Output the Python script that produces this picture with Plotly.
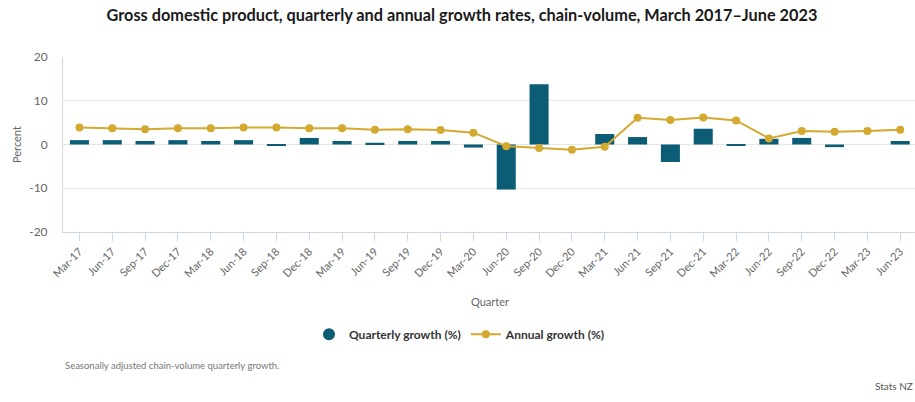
import plotly.graph_objects as go

quarters = ["Mar-17", "Jun-17", "Sep-17", "Dec-17", "Mar-18", "Jun-18", "Sep-18", "Dec-18",
            "Mar-19", "Jun-19", "Sep-19", "Dec-19", "Mar-20", "Jun-20", "Sep-20", "Dec-20",
            "Mar-21", "Jun-21", "Sep-21", "Dec-21", "Mar-22", "Jun-22", "Sep-22", "Dec-22",
            "Mar-23", "Jun-23"]
quarterly_growth = [1.0, 1.0, 0.8, 1.0, 0.8, 1.0, -0.2, 1.5,
                    0.8, 0.4, 0.8, 0.8, -0.7, -10.3, 13.8, 0.0,
                    2.4, 1.7, -4.0, 3.6, -0.2, 1.3, 1.5, -0.6,
                    0.0, 0.8]
annual_growth = [3.9, 3.7, 3.5, 3.7, 3.7, 3.9, 3.9, 3.7,
                 3.7, 3.4, 3.5, 3.3, 2.7, -0.4, -0.8, -1.2,
                 -0.5, 6.1, 5.6, 6.2, 5.5, 1.4, 3.1, 2.9,
                 3.1, 3.4]
y_ticks = [-20, -10, 0, 10, 20]
y_tick_labels = ["-20", "-10", "0", "10", "20"]

BAR = "#0b5c74"
GOLD = "#d4a92f"
AXIS = "#ccd6eb"
GRID = "#e6e6e6"
FONT = "Lato"

W, H = 915, 402

fig = go.Figure()
fig.add_trace(go.Bar(x=quarters, y=quarterly_growth, marker_color=BAR, marker_line_width=0,
                     name="Quarterly growth (%)", showlegend=False))
fig.add_trace(go.Scatter(x=[None], y=[None], mode="markers", name="Quarterly growth (%)",
                         marker=dict(color=BAR, size=12, symbol="circle")))
fig.add_trace(go.Scatter(x=quarters, y=annual_growth, mode="lines+markers", name="Annual growth (%)",
                         line=dict(color=GOLD, width=2), marker=dict(color=GOLD, size=8)))

plot_top, plot_bottom, plot_left, plot_right = 56.7, 232.3, 63, 915
ph = plot_bottom - plot_top
pw = plot_right - plot_left

def px(xpix):
    return (xpix - plot_left) / pw

def py(ypix):
    return (plot_bottom - ypix) / ph

fig.update_layout(
    width=W, height=H,
    margin=dict(l=plot_left, r=W - plot_right, t=plot_top, b=H - plot_bottom),
    paper_bgcolor="white", plot_bgcolor="white",
    font=dict(family=FONT, color="#666666", size=11),
    bargap=0.42,
    title=dict(text="<b>Gross domestic product, quarterly and annual growth rates, chain-volume, March 2017\u2013June 2023</b>",
               x=462 / W, xanchor="center", y=1 - 15 / H, yanchor="middle",
               font=dict(family=FONT, size=16.3, color="#1a1a1a")),
    xaxis=dict(type="category", range=[-0.5, 25.45], tickangle=-45,
               showline=True, linecolor=AXIS, linewidth=1,
               ticks="outside", ticklen=8, tickcolor=AXIS,
               tickfont=dict(size=11, color="#666666"), showgrid=False),
    yaxis=dict(range=[-20, 20], tickvals=y_ticks, ticktext=y_tick_labels,
               showgrid=True, gridcolor=GRID,
               zeroline=True, zerolinecolor=GRID, zerolinewidth=1,
               showline=True, linecolor=AXIS, linewidth=1,
               ticklabelstandoff=12, tickfont=dict(size=12, color="#666666")),
    legend=dict(orientation="h", x=px(460), xanchor="center", y=py(335), yanchor="middle",
                font=dict(family=FONT, size=12, color="#333333", weight="bold"),
                itemwidth=30, tracegroupgap=0),
    annotations=[
        dict(text="Quarter", xref="paper", yref="paper", x=px(490), y=py(302),
             xanchor="center", yanchor="middle",
             showarrow=False, font=dict(size=11, color="#666666")),
        dict(text="Percent", xref="paper", yref="paper", x=px(17), y=py(145),
             xanchor="center", yanchor="middle",
             showarrow=False, textangle=-90, font=dict(size=11, color="#666666")),
        dict(text="Seasonally adjusted chain-volume quarterly growth.", xref="paper", yref="paper",
             x=px(63), y=py(366), xanchor="left", yanchor="middle", showarrow=False,
             font=dict(size=9.5, color="#777777")),
        dict(text="Stats NZ", xref="paper", yref="paper", x=1, y=py(387), xanchor="right",
             yanchor="middle", showarrow=False, font=dict(size=10, color="#555555")),
    ],
)

fig.write_html(
    "out.html",
    config={"displayModeBar": False},
    post_script="document.body.style.margin='0';document.body.style.overflow='hidden';",
)
